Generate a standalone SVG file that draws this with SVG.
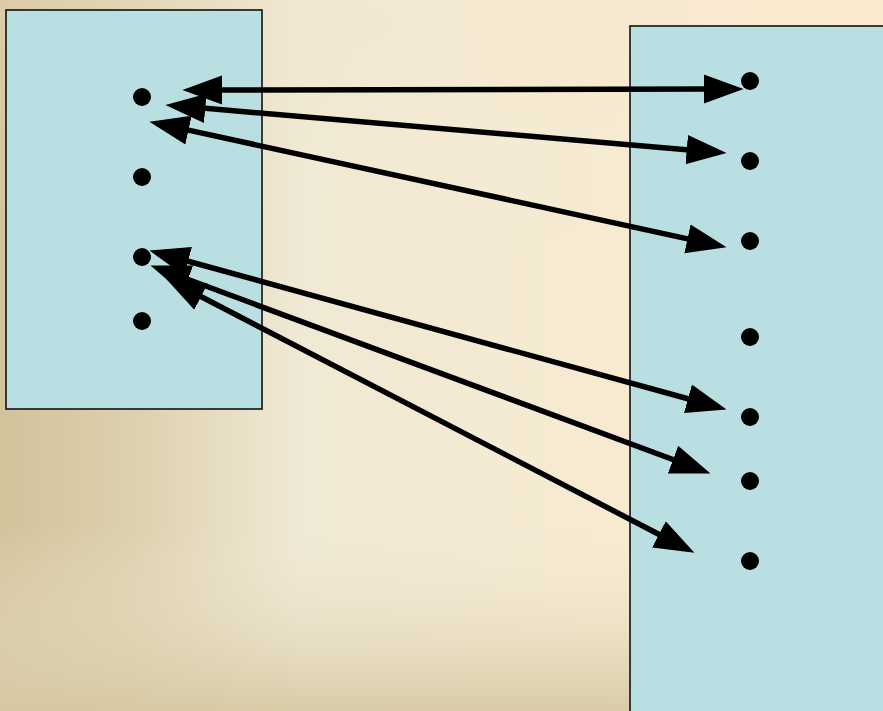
<svg xmlns="http://www.w3.org/2000/svg" width="883" height="711" viewBox="0 0 883 711">
  <defs>
    <linearGradient id="bgH" x1="0" y1="0" x2="883" y2="0" gradientUnits="userSpaceOnUse">
      <stop offset="0" stop-color="#d3c39b"/>
      <stop offset="0.15" stop-color="#ddd0ae"/>
      <stop offset="0.34" stop-color="#f0e9d5"/>
      <stop offset="0.62" stop-color="#f6ead2"/>
      <stop offset="1" stop-color="#fdebd0"/>
    </linearGradient>
    <linearGradient id="bgV" x1="0" y1="0" x2="0" y2="711" gradientUnits="userSpaceOnUse">
      <stop offset="0" stop-color="#f5e7cc" stop-opacity="0.25"/>
      <stop offset="0.35" stop-color="#f2ead6" stop-opacity="0"/>
      <stop offset="0.74" stop-color="#f2ead6" stop-opacity="0"/>
      <stop offset="1" stop-color="#d6c8a2" stop-opacity="0.9"/>
    </linearGradient>
    <marker id="ah" markerUnits="userSpaceOnUse" markerWidth="40" markerHeight="30" viewBox="0 0 38 28" refX="8" refY="14" orient="auto-start-reverse">
      <path d="M0,0 L38,14 L0,28 z" fill="#000"/>
    </marker>
    <style>
      .box { fill: #b9dfe3; stroke: #111; stroke-width: 1.6; }
      .dot { fill: #000; }
      .conn { stroke: #000; stroke-width: 5.5; fill: none; marker-start: url(#ah); marker-end: url(#ah); }
    </style>
  </defs>
  <rect x="0" y="0" width="883" height="711" fill="url(#bgH)"/>
  <rect x="0" y="0" width="883" height="711" fill="url(#bgV)"/>

  <g id="left-node">
    <rect class="box" x="6" y="10" width="256" height="399"/>
    <circle class="dot" cx="142" cy="97" r="9"/>
    <circle class="dot" cx="142" cy="177" r="9"/>
    <circle class="dot" cx="142" cy="257" r="9"/>
    <circle class="dot" cx="142" cy="321" r="9"/>
  </g>

  <g id="right-node">
    <rect class="box" x="630" y="26" width="260" height="700"/>
    <circle class="dot" cx="750" cy="81" r="9"/>
    <circle class="dot" cx="750" cy="161" r="9"/>
    <circle class="dot" cx="750" cy="241" r="9"/>
    <circle class="dot" cx="750" cy="337" r="9"/>
    <circle class="dot" cx="750" cy="417" r="9"/>
    <circle class="dot" cx="750" cy="481" r="9"/>
    <circle class="dot" cx="750" cy="561" r="9"/>
  </g>

  <g id="connectors">
    <line class="conn" x1="214" y1="90" x2="712" y2="89"/>
    <line class="conn" x1="196.9" y1="107.6" x2="695.1" y2="150.4"/>
    <line class="conn" x1="180.3" y1="128.4" x2="695.7" y2="240.6"/>
    <line class="conn" x1="179.9" y1="259" x2="696.1" y2="401"/>
    <line class="conn" x1="180.1" y1="276.5" x2="680.9" y2="462.5"/>
    <line class="conn" x1="193.6" y1="292.8" x2="666.4" y2="538.2"/>
  </g>
</svg>
